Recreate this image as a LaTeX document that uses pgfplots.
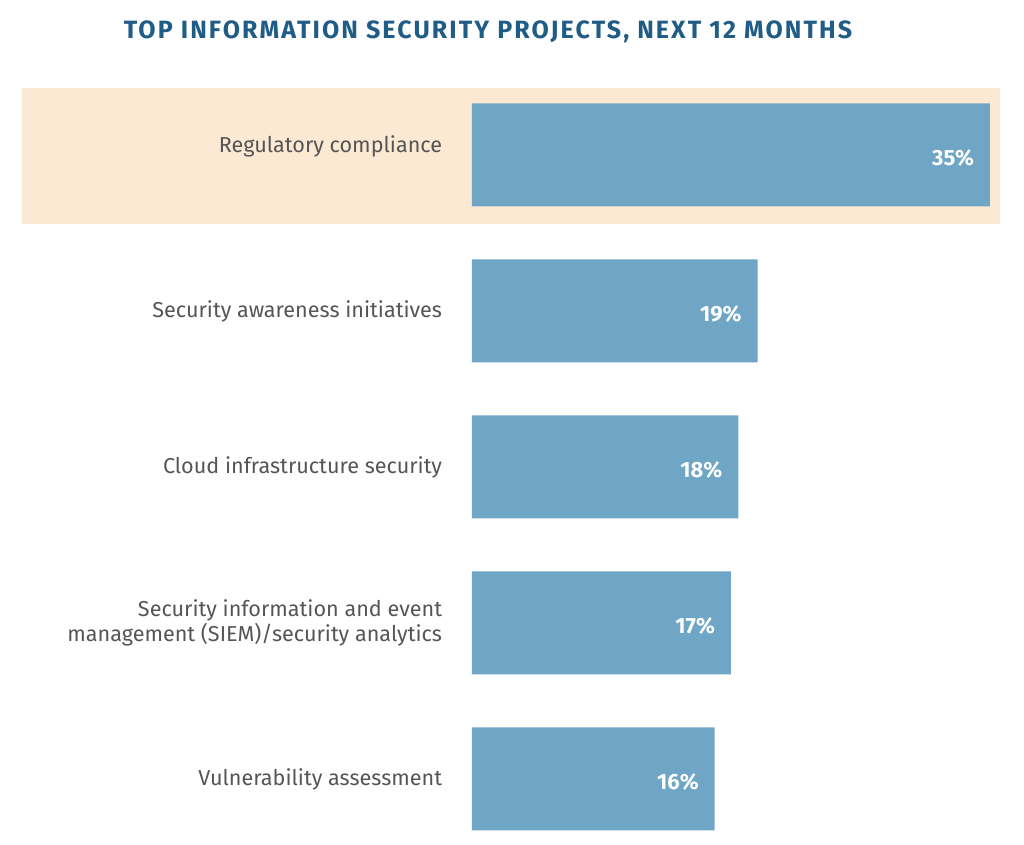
\documentclass[border=0pt]{standalone}
\usepackage{pgfplots}
\pgfplotsset{compat=1.18}
\usepackage{fontspec}
\setmainfont{Fira Sans}
\newfontfamily\titlefont[LetterSpace=8.4]{Fira Sans}
\definecolor{barblue}{HTML}{6FA6C6}
\definecolor{hl}{HTML}{FCE9D4}
\definecolor{titleblue}{HTML}{1F5C86}
\definecolor{labgray}{HTML}{555555}
\begin{document}
\begin{tikzpicture}
\useasboundingbox (0,0) rectangle (512pt,422.5pt);
\fill[hl] (11pt,310.5pt) rectangle (500pt,378.5pt);
\node[font=\titlefont\bfseries\fontsize{12.5}{14}\selectfont, text=titleblue] at (244pt,406.5pt) {TOP INFORMATION SECURITY PROJECTS, NEXT 12 MONTHS};
\begin{axis}[
  at={(236pt,33pt)}, anchor=south west,
  scale only axis, width=259pt, height=312pt,
  xmin=0, xmax=35, ymin=0, ymax=4,
  enlargelimits=false, clip=false,
  xbar, bar width=51.5pt,
  axis line style={draw=none}, tick style={draw=none},
  xtick=\empty,
  ytick={0,1,2,3,4},
  yticklabels={Vulnerability assessment,
    {Security information and event\\management (SIEM)/security analytics},
    Cloud infrastructure security,
    Security awareness initiatives,
    \raisebox{11pt}{Regulatory compliance}},
  yticklabel style={anchor=east, align=right, inner sep=0pt, xshift=-10.5pt,
    font=\fontsize{10.8}{12.2}\selectfont, text=labgray},
  point meta=explicit symbolic,
  nodes near coords,
  every node near coord/.append style={anchor=east, xshift=-4.5pt, yshift=-1.5pt,
    text=white, font=\bfseries\fontsize{11}{12}\selectfont},
]
\addplot[fill=barblue, draw=none] coordinates {
  (16.4,0) [16\%]
  (17.5,1) [17\%]
  (18.0,2) [18\%]
  (19.3,3) [19\%]
  (35,4) [35\%]
};
\end{axis}
\end{tikzpicture}
\end{document}
